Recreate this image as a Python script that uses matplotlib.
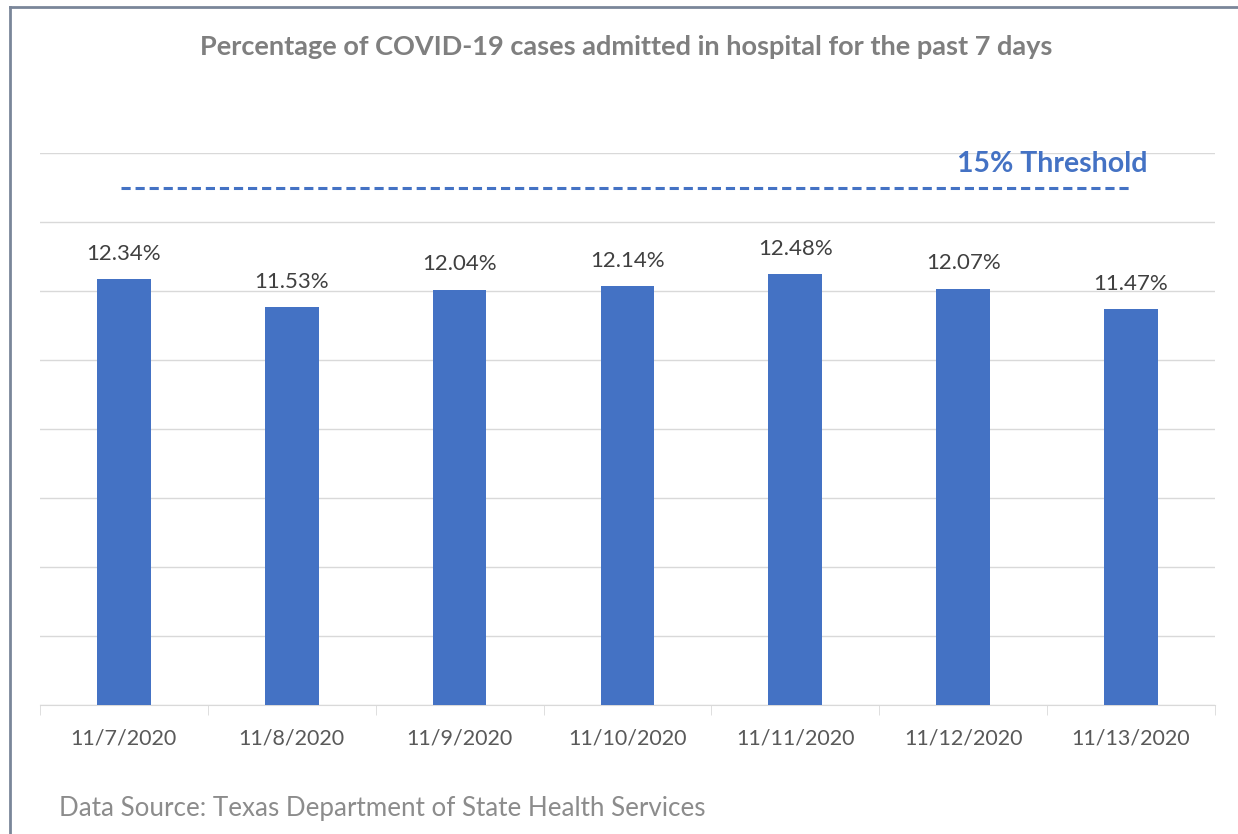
import matplotlib.pyplot as plt
from matplotlib.lines import Line2D

dates = ['11/7/2020', '11/8/2020', '11/9/2020', '11/10/2020',
         '11/11/2020', '11/12/2020', '11/13/2020']
pct = [12.34, 11.53, 12.04, 12.14, 12.48, 12.07, 11.47]
threshold = 15

plt.rcParams['font.family'] = ['Lato', 'DejaVu Sans']

fig = plt.figure(figsize=(12.38, 8.34), dpi=100)
ax = fig.add_axes([0.0323, 0.1547, 0.9491, 0.6618])

x = range(len(dates))
rects = ax.bar(x, pct, width=0.32, color='#4472C4', zorder=3)
ax.bar_label(rects, labels=[f'{v:.2f}%' for v in pct], padding=11,
             fontsize=16, color='#404040')

# threshold line
ax.plot([-0.02, 6.01], [threshold, threshold], color='#4472C4',
        linestyle=(0, (3, 1.6)), linewidth=2.2, zorder=4)
ax.text(6.1, threshold + 0.3, '15% Threshold', color='#4472C4',
        fontsize=20.5, fontweight='bold', ha='right', va='bottom')

ax.set_xlim(-0.5, 6.5)
ax.set_ylim(0, 16)
ax.set_yticks(range(0, 17, 2))
ax.yaxis.grid(True, color='#d9d9d9', linewidth=1)
ax.tick_params(axis='y', length=0, labelleft=False)

ax.set_xticks(x)
ax.set_xticklabels(dates, fontsize=15.5, color='#595959')
ax.set_xticks([i - 0.5 for i in range(len(dates) + 1)], minor=True)
ax.tick_params(axis='x', which='major', length=0, pad=17)
ax.tick_params(axis='x', which='minor', length=7, color='#d9d9d9')

for s in ['top', 'right', 'left']:
    ax.spines[s].set_visible(False)
ax.spines['bottom'].set_color('#d9d9d9')

fig.text(0.506, 0.944, 'Percentage of COVID-19 cases admitted in hospital for the past 7 days',
         ha='center', va='center', fontsize=19.5, fontweight='bold', color='#7f7f7f')
fig.text(0.048, 0.031, 'Data Source: Texas Department of State Health Services',
         ha='left', va='center', fontsize=18.7, color='#8c8c8c')

# outer frame (left and top edges)
fig.add_artist(Line2D([0.0081, 0.0081], [0, 0.9916], transform=fig.transFigure,
                      color='#7a8699', linewidth=2))
fig.add_artist(Line2D([0.0081, 1], [0.9916, 0.9916], transform=fig.transFigure,
                      color='#7a8699', linewidth=2))

fig.savefig('out.png', dpi=100)
